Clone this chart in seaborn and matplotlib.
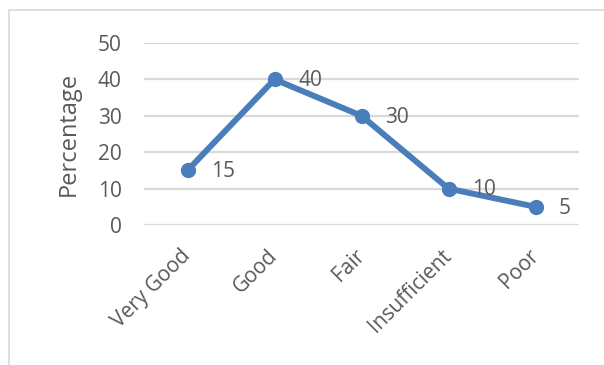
import matplotlib
matplotlib.use("Agg")
import matplotlib.pyplot as plt
import seaborn as sns
import pandas as pd
from matplotlib.lines import Line2D

categories = ["Very Good", "Good", "Fair", "Insufficient", "Poor"]
values = [15, 40, 30, 10, 5]
yticks = [0, 10, 20, 30, 40, 50]

sns.set_theme(style="white")
plt.rcParams['font.family'] = ['Open Sans', 'DejaVu Sans']

df = pd.DataFrame({"cat": categories, "val": values})

fig = plt.figure(figsize=(6.04, 3.65), dpi=100)
ax = fig.add_axes([144/604, 1-225/365, (579-144)/604, (225-43)/365])

blue = "#4a7ebb"
grey = "#595959"

for y in yticks:
    ax.axhline(y, color="#d9d9d9", lw=1.6, zorder=0)

sns.lineplot(data=df, x="cat", y="val", ax=ax, color=blue, lw=4.3, marker="o",
             markersize=11, markeredgewidth=0, sort=False, zorder=3)

for i, v in enumerate(values):
    ax.annotate(str(v), (i, v), xytext=(17, -1), textcoords="offset points",
                ha="left", va="center", fontsize=15, color=grey)

ax.set_xlim(-0.5, 4.5)
ax.set_ylim(0, 50)
ax.set_yticks(yticks)
ax.set_yticklabels([str(t) for t in yticks], fontsize=15, color=grey)
ax.set_xticks(range(len(categories)))
ax.set_xticklabels(categories, fontsize=15, color=grey, rotation=45,
                   ha="right", va="center", rotation_mode="anchor")
ax.tick_params(axis="x", pad=20, length=0)
ax.tick_params(axis="y", pad=16, length=0)
ax.set_xlabel("")
ax.set_ylabel("Percentage", fontsize=17, color=grey, labelpad=12)
for s in ax.spines.values():
    s.set_visible(False)

fig.add_artist(Line2D([9/604, 9/604], [0, 1-10/365], color="#d9d9d9", lw=1.2, transform=fig.transFigure))
fig.add_artist(Line2D([9/604, 1], [1-10/365, 1-10/365], color="#d9d9d9", lw=1.2, transform=fig.transFigure))

fig.savefig("out.png", dpi=100)
